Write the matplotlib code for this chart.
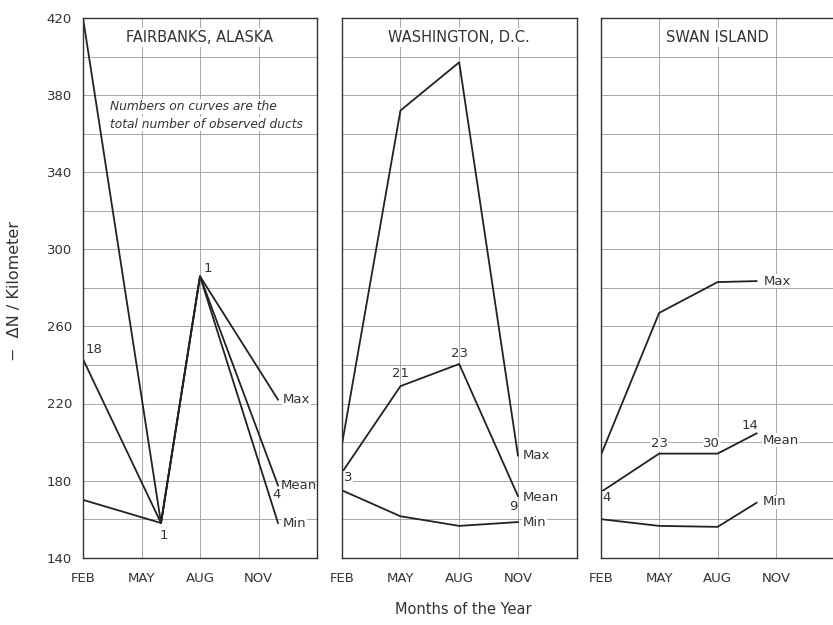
import matplotlib
matplotlib.use("Agg")
import matplotlib.pyplot as plt

# months counted from FEB = 0
month_ticks = [0, 3, 6, 9]
month_labels = ["FEB", "MAY", "AUG", "NOV"]
y_ticks = [140, 180, 220, 260, 300, 340, 380, 420]

# Fairbanks, Alaska
fair_x = [0, 4, 6, 10]
fair_max = [420, 158, 286, 222]
fair_mean = [243, 158, 286, 177.5]
fair_min = [170, 158, 286, 158]

# Washington, D.C.
wash_x = [0, 3, 6, 9]
wash_max = [198, 372, 397, 193]
wash_mean = [184, 229, 240.5, 172]
wash_min = [175, 161.5, 156.5, 158.5]

# Swan Island
swan_x = [0, 3, 6, 8]
swan_max = [193, 267, 283, 283.5]
swan_mean = [174, 194, 194, 204.5]
swan_min = [160, 156.5, 156, 168.5]

TXT = "#333333"
LINE = "#222222"
GRID = "#9a9a9a"

plt.rcParams["font.family"] = ["DejaVu Sans"]

fig = plt.figure(figsize=(8.33, 6.25), dpi=100)

W, H = 833.0, 625.0
top_px, bot_px = 18.0, 557.7
panel_left = [83.0, 341.7, 600.7]
panel_w = [234.0, 235.0, 233.8]

axes = []
for left, w in zip(panel_left, panel_w):
    ax = fig.add_axes([left / W, 1 - bot_px / H, w / W, (bot_px - top_px) / H])
    ax.set_xlim(0, 12)
    ax.set_ylim(140, 420)
    for y in range(160, 420, 20):
        ax.axhline(y, color=GRID, lw=0.6, zorder=1)
    for x in month_ticks[1:]:
        ax.axvline(x, color=GRID, lw=0.6, zorder=1)
    ax.set_xticks(month_ticks)
    ax.set_xticklabels(month_labels)
    ax.set_yticks(y_ticks)
    ax.tick_params(length=0, labelsize=9.5, colors=TXT)
    ax.tick_params(axis="x", pad=10)
    ax.tick_params(axis="y", pad=8)
    for s in ax.spines.values():
        s.set_color("#333333")
        s.set_linewidth(1.0)
        s.set_zorder(5)
    axes.append(ax)

for ax in axes[1:]:
    ax.set_yticklabels([])

series = [
    (fair_x, fair_max, fair_mean, fair_min),
    (wash_x, wash_max, wash_mean, wash_min),
    (swan_x, swan_max, swan_mean, swan_min),
]
for ax, (xs, mx, mn, lo) in zip(axes, series):
    for ys in (mx, mn, lo):
        ax.plot(xs, ys, color=LINE, lw=1.3, zorder=3)

titles = ["FAIRBANKS, ALASKA", "WASHINGTON, D.C.", "SWAN ISLAND"]
for ax, t in zip(axes, titles):
    ax.text(6, 410, t, ha="center", va="center", fontsize=10.5, color=TXT,
            bbox=dict(facecolor="white", edgecolor="none", pad=1.5), zorder=4)

wb = dict(facecolor="white", edgecolor="none", pad=0.5)
fs = 9.5

# Fairbanks labels
ax = axes[0]
ax.text(1.4, 374, "Numbers on curves are the", style="italic", fontsize=8.8,
        color=TXT, ha="left", va="center", bbox=wb, zorder=4)
ax.text(1.4, 365, "total number of observed ducts", style="italic", fontsize=8.8,
        color=TXT, ha="left", va="center", bbox=wb, zorder=4)
ax.text(0.15, 248, "18", fontsize=fs, color=TXT, ha="left", va="center")
ax.text(6.2, 290, "1", fontsize=fs, color=TXT, ha="left", va="center")
ax.text(4.15, 151.5, "1", fontsize=fs, color=TXT, ha="center", va="center")
ax.text(10.25, 222, "Max", fontsize=fs, color=TXT, ha="left", va="center", bbox=wb, zorder=4)
ax.text(9.95, 173, "4", fontsize=fs, color=TXT, ha="center", va="center", zorder=4)
ax.text(10.15, 177.5, "Mean", fontsize=fs, color=TXT, ha="left", va="center", zorder=4)
ax.text(10.25, 158, "Min", fontsize=fs, color=TXT, ha="left", va="center", bbox=wb, zorder=4)

# Washington labels
ax = axes[1]
ax.text(0.1, 181.5, "3", fontsize=fs, color=TXT, ha="left", va="center", bbox=wb, zorder=4)
ax.text(3.0, 235.5, "21", fontsize=fs, color=TXT, ha="center", va="center", zorder=4)
ax.text(6.0, 246, "23", fontsize=fs, color=TXT, ha="center", va="center", zorder=4)
ax.text(9.25, 193, "Max", fontsize=fs, color=TXT, ha="left", va="center", bbox=wb, zorder=4)
ax.text(8.75, 166.5, "9", fontsize=fs, color=TXT, ha="center", va="center", zorder=4)
ax.text(9.25, 171, "Mean", fontsize=fs, color=TXT, ha="left", va="center", bbox=wb, zorder=4)
ax.text(9.25, 158.5, "Min", fontsize=fs, color=TXT, ha="left", va="center", bbox=wb, zorder=4)

# Swan Island labels
ax = axes[2]
ax.text(0.1, 171, "4", fontsize=fs, color=TXT, ha="left", va="center", bbox=wb, zorder=4)
ax.text(3.0, 199, "23", fontsize=fs, color=TXT, ha="center", va="center", bbox=wb, zorder=4)
ax.text(5.7, 199, "30", fontsize=fs, color=TXT, ha="center", va="center", bbox=wb, zorder=4)
ax.text(8.35, 283.5, "Max", fontsize=fs, color=TXT, ha="left", va="center", bbox=wb, zorder=4)
ax.text(7.65, 208.5, "14", fontsize=fs, color=TXT, ha="center", va="center", zorder=4)
ax.text(8.3, 201, "Mean", fontsize=fs, color=TXT, ha="left", va="center", bbox=wb, zorder=4)
ax.text(8.3, 169, "Min", fontsize=fs, color=TXT, ha="left", va="center", bbox=wb, zorder=4)

fig.text(15 / W, 1 - 291 / H, "\u2212  \u0394N / Kilometer", rotation=90,
         ha="center", va="center", fontsize=11.5, color=TXT)
fig.text(463 / W, 1 - 609 / H, "Months of the Year", ha="center", va="center",
         fontsize=10.5, color=TXT)

fig.savefig("out.png", dpi=100)
